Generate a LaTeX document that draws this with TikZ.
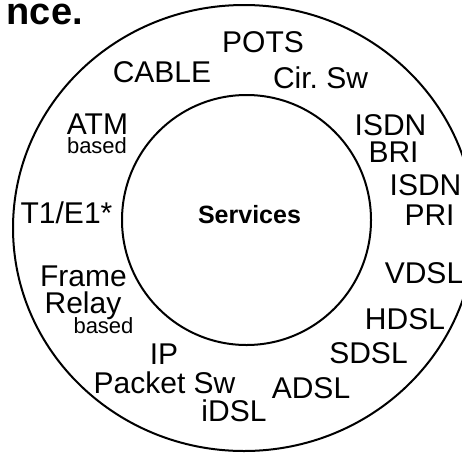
\documentclass[tikz,border=0pt]{standalone}
\usepackage{fontspec}
\setmainfont{Liberation Sans}
\usepackage{tikz}
\tikzset{
  ring/.style={draw=black, line width=2pt},
  svclabel/.style={font=\fontsize{30}{30}\selectfont, inner sep=0pt, anchor=base},
  sublabel/.style={font=\fontsize{22}{22}\selectfont, inner sep=0pt, anchor=base},
  corelabel/.style={font=\fontsize{25}{25}\selectfont\bfseries, inner sep=0pt, anchor=base},
  titlelabel/.style={font=\fontsize{38}{38}\selectfont\bfseries, inner sep=0pt, anchor=base east}
}

\begin{document}
\begin{tikzpicture}[x=1pt, y=-1pt]
  \useasboundingbox (0,0) rectangle (462,453);
  \clip (0,0) rectangle (462,453);

  % rings
  \draw[ring] (244,228) ellipse [x radius=231, y radius=223];
  \draw[ring] (246.5,220) ellipse [x radius=124.5, y radius=125];

  % title fragment
  \node[titlelabel] (title) at (83,24) {nce.};

  % centre
  \node[corelabel] (core) at (249.5,223) {Services};

  % outer ring, clockwise from top
  \node[svclabel] (pots) at (263,52) {POTS};
  \node[svclabel] (cirsw) at (320.5,88) {Cir.\ Sw};
  \node[svclabel] (isdnb) at (390.5,135) {ISDN};
  \node[svclabel] (bri) at (393.5,162) {BRI};
  \node[svclabel] (isdnp) at (425.5,195) {ISDN};
  \node[svclabel] (pri) at (429.5,225) {PRI};
  \node[svclabel] (vdsl) at (424,283) {VDSL};
  \node[svclabel] (hdsl) at (405,329) {HDSL};
  \node[svclabel] (sdsl) at (368.5,363) {SDSL};
  \node[svclabel] (adsl) at (311,398) {ADSL};
  \node[svclabel] (idsl) at (234,421) {iDSL};
  \node[svclabel] (ip) at (164,364) {IP};
  \node[svclabel] (pktsw) at (164.5,393) {Packet Sw};
  \node[svclabel] (frame) at (83.5,286) {Frame};
  \node[svclabel] (relay) at (83,313) {Relay};
  \node[sublabel] (frbased) at (103.5,333) {based};
  \node[svclabel] (t1e1) at (66.5,223) {T1/E1*};
  \node[svclabel] (atm) at (97.5,134) {ATM};
  \node[sublabel] (atmbased) at (97,153) {based};
  \node[svclabel] (cable) at (162,82) {CABLE};
\end{tikzpicture}
\end{document}
